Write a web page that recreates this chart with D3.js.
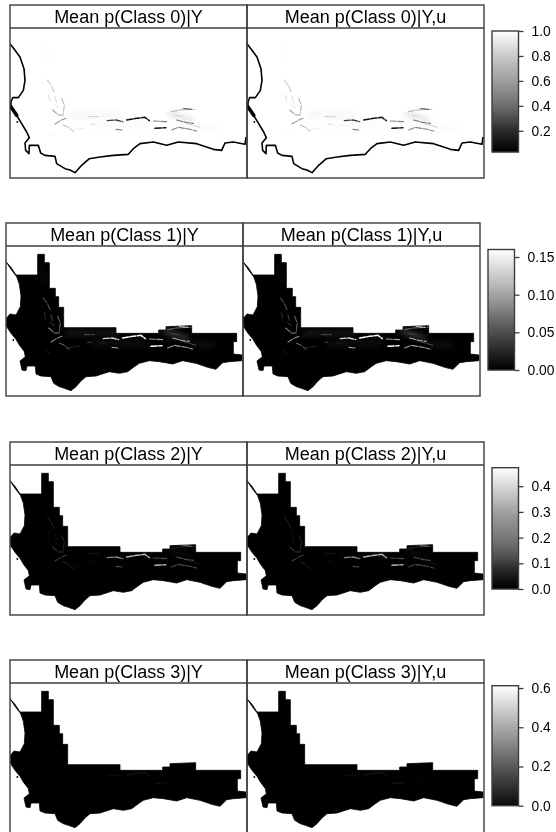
<!DOCTYPE html>
<html>
<head>
<meta charset="utf-8">
<script src="https://cdn.jsdelivr.net/npm/d3@7"></script>
<style>
  html, body { margin: 0; padding: 0; background: #fff; }
  svg { display: block; filter: blur(0.45px); }
  text { font-family: "Liberation Sans", Arial, sans-serif; fill: #000; }
</style>
</head>
<body>
<div id="chart"></div>
<script>
// ---- data ----
const classes = [0, 1, 2, 3];
const models = ["Y", "Y,u"];

// colour bar range and ticks for each class
const barDomains = [[0.03, 1], [0, 0.16], [0, 0.472], [0, 0.612]];
const barTicks = [
  [0.2, 0.4, 0.6, 0.8, 1.0],
  [0, 0.05, 0.10, 0.15],
  [0, 0.1, 0.2, 0.3, 0.4],
  [0, 0.2, 0.4, 0.6]
];
// probability over the bulk of the region, and at the strongest streak
const backgroundValue = [1, 0, 0, 0];
const peakValue = [0.03, 0.17, 0.36, 0.05];
const streakPower = [1.2, 0.9, 1.6, 2.5];

// map units: 3 per screen pixel, origin under the title strip of a panel
const coastLine = [
  [0,47],[15,67],[30,87],[42,122],[45,157],[40,187],[25,209],[8,209],[3,222],[3,237],
  [20,262],[35,287],[50,312],[58,329],[45,345],[47,367],[57,377],[58,352],[85,352],
  [92,375],[105,382],[135,385],[140,407],[165,422],[180,426],[195,434],[215,412],[238,392],
  [270,387],[310,382],[355,379],[370,362],[390,347],[430,342],[470,352],[505,342],
  [560,347],[610,364],[635,367],[645,345],[670,342],[705,349],[708,327]
];
const coastBlob = [[3,237],[12,250],[20,262]];
const islands = [[22,282]];
const regionCoast = [
  [0,47],[15,70],[32,92],[40,115],[45,150],[43,182],[30,207],[12,204],[0,218],[2,242],
  [15,262],[30,280],[40,297],[55,317],[58,332],[42,345],[48,372],[60,374],[63,360],[88,360],
  [90,384],[105,390],[135,392],[143,412],[160,422],[175,427],[195,434],[210,422],[225,405],
  [240,392],[270,390],[310,377],[340,382],[365,377],[385,362],[400,352],[430,344],[460,347],
  [500,354],[530,344],[570,352],[605,364],[630,370],[650,350],[670,347],[708,344],[708,327]
];
const regionTop = [
  [682,324],[682,287],[692,287],[692,262],[557,262],[557,239],[480,242],[480,252],
  [458,252],[458,262],[330,262],[330,245],[173,245],[173,184],[158,184],[158,152],
  [148,152],[148,127],[130,127],[130,50],[115,50],[115,25],[95,25],[95,87],[30,87],[15,64]
];
const streaks = [
  [[112,156],[125,174],[132,191]],
  [[135,206],[140,226]],
  [[155,211],[163,231],[160,256]],
  [[128,246],[145,261],[160,261]],
  [[135,288],[155,276],[168,271]],
  [[160,291],[175,298],[190,311]],
  [[120,316],[130,321]],
  [[235,266],[265,266]],
  [[292,278],[318,276],[338,281]],
  [[350,276],[380,271],[405,268],[418,278]],
  [[430,279],[470,281]],
  [[318,304],[338,306]],
  [[245,289],[255,289]],
  [[435,301],[468,299]],
  [[485,306],[505,298],[540,304],[560,309]],
  [[485,251],[510,246],[555,244]],
  [[520,241],[545,244]],
  [[500,276],[530,284],[550,286]],
  [[530,286],[570,298]],
  [[175,276],[205,256]],
  [[180,306],[220,301]],
  [[115,200],[120,222]],
  [[135,230],[145,240]],
  [[495,262],[520,266]],
  [[280,290],[300,292]]
];
const streakWeights = [
  0.35, 0.25, 0.4, 0.45, 0.5, 0.4, 0.12, 0.3, 0.8, 0.95, 0.55, 0.55, 0.25,
  0.95, 0.55, 0.4, 0.7, 0.6, 0.3, 0.08, 0.15, 0.2, 0.25, 0.25, 0.12
];
const haze = [
  [[105,60],[115,100]],
  [[190,262],[330,262]],
  [[260,292],[410,292]],
  [[480,256],[540,276]],
  [[560,296],[620,298]]
];
const hazeWeights = [0.015, 0.05, 0.03, 0.12, 0.03];

// ---- layout ----
const width = 556, height = 832;
const panelLeft = [10, 6, 10, 10];
const panelTop = [5, 223, 442, 660];
const panelW = 237, stripH = 23, mapH = 150;
const barLeft = [492, 488, 492, 492];
const barTop = [31, 249.5, 467.7, 685.7];
const barBottom = [152, 370, 589, 805.7];
const barW = 26.5;
const frameColor = "#3c3c3c";

const svg = d3.select("#chart").append("svg")
  .attr("width", width)
  .attr("height", height);

const lineGen = d3.line();

function drawMap(g, c, color, x, y, id) {
  const pts = a => a.map(d => [x(d[0]), y(d[1])]);
  const regionPath = lineGen(pts(regionCoast.concat(regionTop))) + "Z";

  const frameClip = "frame" + id;
  g.append("clipPath").attr("id", frameClip).append("rect")
    .attr("x", x.range()[0]).attr("y", y.range()[0])
    .attr("width", panelW).attr("height", mapH);
  const regionClip = "region" + id;
  g.append("clipPath").attr("id", regionClip).append("path").attr("d", regionPath);

  const map = g.append("g").attr("clip-path", `url(#${frameClip})`);

  // class 0 is almost 1 everywhere, so the region only shows through the coast line
  map.append("path")
    .attr("d", regionPath)
    .attr("fill", color(backgroundValue[c]))
    .attr("stroke", color(backgroundValue[c]))
    .attr("stroke-width", 0.8);

  const levelOf = w => {
    const t = Math.pow(w, streakPower[c]);
    return backgroundValue[c] + (peakValue[c] - backgroundValue[c]) * t;
  };

  const inside = map.append("g").attr("clip-path", `url(#${regionClip})`);

  inside.selectAll("path.haze").data(d3.zip(haze, hazeWeights)).join("path")
    .attr("class", "haze")
    .attr("d", d => lineGen(pts(d[0])))
    .attr("fill", "none")
    .attr("stroke", d => color(levelOf(d[1])))
    .attr("stroke-width", 7)
    .attr("stroke-linecap", "round")
    .style("filter", "blur(2.5px)");

  inside.selectAll("path.streak").data(d3.zip(streaks, streakWeights)).join("path")
    .attr("class", "streak")
    .attr("d", d => lineGen(pts(d[0])))
    .attr("fill", "none")
    .attr("stroke", d => color(levelOf(d[1])))
    .attr("stroke-width", d => 0.6 + 0.9 * d[1])
    .attr("stroke-dasharray", "6 1.5")
    .attr("stroke-linecap", "round")
    .attr("stroke-linejoin", "round")
    .style("filter", "blur(0.5px)");

  if (c === 0) {
    map.append("path")
      .attr("d", lineGen(pts(coastLine)))
      .attr("fill", "none")
      .attr("stroke", "#000")
      .attr("stroke-width", 1.6)
      .attr("stroke-linejoin", "round");
    map.append("path")
      .attr("d", lineGen(pts(coastBlob)))
      .attr("fill", "none")
      .attr("stroke", "#000")
      .attr("stroke-width", 3.6)
      .attr("stroke-linecap", "round");
  }

  map.selectAll("circle.island").data(islands).join("circle")
    .attr("class", "island")
    .attr("cx", d => x(d[0])).attr("cy", d => y(d[1]))
    .attr("r", 0.9)
    .attr("fill", "#000");
}

function drawPanel(c, m, i) {
  const left = panelLeft[c] + i * panelW;
  const top = panelTop[c];
  const x = d3.scaleLinear().domain([0, 711]).range([left, left + panelW]);
  const y = d3.scaleLinear().domain([0, 450]).range([top + stripH, top + stripH + mapH]);
  const color = d3.scaleLinear().domain(barDomains[c]).range(["#000", "#fff"]).clamp(true);

  const g = svg.append("g");
  drawMap(g, c, color, x, y, c + "_" + i);

  g.append("rect")
    .attr("x", left).attr("y", top)
    .attr("width", panelW).attr("height", stripH + mapH)
    .attr("fill", "none").attr("stroke", frameColor).attr("stroke-width", 1.4);
  g.append("line")
    .attr("x1", left).attr("x2", left + panelW)
    .attr("y1", top + stripH).attr("y2", top + stripH)
    .attr("stroke", frameColor).attr("stroke-width", 1.4);
  g.append("text")
    .attr("x", left + panelW / 2)
    .attr("y", top + 18)
    .attr("text-anchor", "middle")
    .attr("font-size", 18)
    .text(`Mean p(Class ${c})|${m}`);
}

function drawBar(c) {
  const left = barLeft[c];
  const y = d3.scaleLinear().domain(barDomains[c]).range([barBottom[c], barTop[c]]);
  const color = d3.scaleLinear().domain(barDomains[c]).range(["#000", "#fff"]);
  const g = svg.append("g");

  const steps = d3.range(0, 120).map(k => barDomains[c][0] + (barDomains[c][1] - barDomains[c][0]) * k / 120);
  const stepH = (barBottom[c] - barTop[c]) / 120;
  g.selectAll("rect.step").data(steps).join("rect")
    .attr("class", "step")
    .attr("x", left).attr("width", barW)
    .attr("y", d => y(d) - stepH - 0.2)
    .attr("height", stepH + 0.4)
    .attr("fill", d => color(d));

  g.append("rect")
    .attr("x", left).attr("y", barTop[c])
    .attr("width", barW).attr("height", barBottom[c] - barTop[c])
    .attr("fill", "none").attr("stroke", frameColor).attr("stroke-width", 1.4);

  const fmt = d3.format(c === 1 ? ".2f" : ".1f");
  const axis = d3.axisRight(y).tickValues(barTicks[c]).tickSize(5).tickPadding(8).tickFormat(fmt);
  const ag = g.append("g").attr("transform", `translate(${left + barW},0)`).call(axis);
  ag.select(".domain").remove();
  ag.selectAll("line").attr("stroke", frameColor).attr("stroke-width", 1.3);
  ag.selectAll("text").attr("font-size", 13.8).attr("font-family", null);
}

classes.forEach(c => {
  models.forEach((m, i) => drawPanel(c, m, i));
  drawBar(c);
});
</script>
</body>
</html>
